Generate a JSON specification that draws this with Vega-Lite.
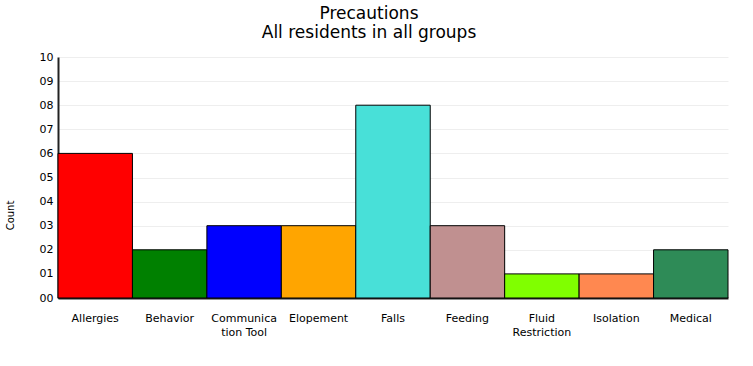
{
  "$schema": "https://vega.github.io/schema/vega-lite/v6.json",
  "autosize": "none",
  "width": 670,
  "height": 241,
  "padding": {"left": 58, "top": 57, "right": 25, "bottom": 68},
  "background": "white",
  "title": {
    "text": ["Precautions", "All residents in all groups"],
    "font": "DejaVu Sans",
    "fontSize": 17,
    "fontWeight": "normal",
    "color": "#000000",
    "anchor": "middle",
    "dx": -24,
    "offset": 9,
    "lineHeight": 19
  },
  "data": {
    "values": [
      {"category": "Allergies", "count": 6, "color": "#ff0000"},
      {"category": "Behavior", "count": 2, "color": "#008000"},
      {"category": "Communication Tool", "count": 3, "color": "#0000ff"},
      {"category": "Elopement", "count": 3, "color": "#ffa500"},
      {"category": "Falls", "count": 8, "color": "#48e0d8"},
      {"category": "Feeding", "count": 3, "color": "#c09090"},
      {"category": "Fluid Restriction", "count": 1, "color": "#80ff00"},
      {"category": "Isolation", "count": 1, "color": "#ff8850"},
      {"category": "Medical", "count": 2, "color": "#2e8b57"}
    ]
  },
  "mark": {"type": "bar", "stroke": "#000000", "strokeWidth": 1},
  "encoding": {
    "x": {
      "field": "category",
      "type": "nominal",
      "sort": null,
      "scale": {"paddingInner": 0, "paddingOuter": 0},
      "axis": {
        "title": null,
        "labelAngle": 0,
        "ticks": false,
        "domainColor": "#222222",
        "domainWidth": 2,
        "labelFont": "DejaVu Sans",
        "labelFontSize": 11,
        "labelColor": "#000000",
        "labelPadding": 14,
        "labelLineHeight": 14,
        "labelExpr": "datum.label == 'Communication Tool' ? ['Communica', 'tion Tool'] : datum.label == 'Fluid Restriction' ? ['Fluid', 'Restriction'] : datum.label"
      }
    },
    "y": {
      "field": "count",
      "type": "quantitative",
      "scale": {"domain": [0, 10]},
      "axis": {
        "title": "Count",
        "titleFont": "DejaVu Sans",
        "titleFontSize": 10,
        "titleFontWeight": "normal",
        "titleColor": "#000000",
        "titleX": -48,
        "titleY": 158,
        "titleAngle": 270,
        "titleAlign": "center",
        "titleBaseline": "middle",
        "values": [0, 1, 2, 3, 4, 5, 6, 7, 8, 9, 10],
        "labelOverlap": false,
        "format": "02d",
        "ticks": false,
        "labelPadding": 5,
        "labelFont": "DejaVu Sans",
        "labelFontSize": 11,
        "labelColor": "#000000",
        "domainColor": "#222222",
        "domainWidth": 2,
        "grid": true,
        "gridColor": "#eeeeee",
        "gridWidth": 1
      }
    },
    "color": {"field": "color", "type": "nominal", "scale": null, "legend": null}
  },
  "config": {"view": {"stroke": null}}
}
